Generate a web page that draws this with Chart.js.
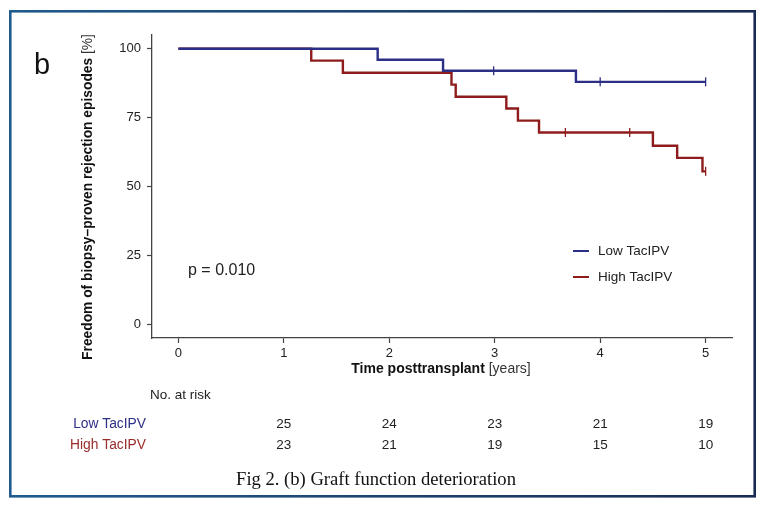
<!DOCTYPE html>
<html>
<head>
<meta charset="utf-8">
<script src="https://cdn.jsdelivr.net/npm/chart.js@4.4.1/dist/chart.umd.min.js"></script>
<style>
  html, body { margin: 0; padding: 0; background: #fff; }
  #wrap { width: 766px; height: 509px; }
</style>
</head>
<body>
<div id="wrap"><canvas id="km" width="766" height="509"></canvas></div>
<script>
"use strict";

// Kaplan-Meier steps (time in years, survival in %)
const lowTimes = [0, 1.89, 2.51, 3.77, 5.0];
const lowSurv = [100, 96, 92, 88, 88];
const lowCensorTimes = [2.99, 4.0, 5.0];
const lowCensorSurv = [92, 88, 88];

const highTimes = [0, 1.26, 1.56, 2.59, 2.63, 3.11, 3.22, 3.42, 4.5, 4.73, 4.97, 5.0];
const highSurv = [100, 95.7, 91.3, 87.0, 82.6, 78.3, 73.9, 69.6, 64.8, 60.4, 55.5, 55.5];
const highCensorTimes = [3.67, 4.28, 5.0];
const highCensorSurv = [69.6, 69.6, 55.5];

// number at risk table
const riskTimes = [1, 2, 3, 4, 5];
const lowRisk = [25, 24, 23, 21, 19];
const highRisk = [23, 21, 19, 15, 10];

const xTicks = [0, 1, 2, 3, 4, 5];
const yTicks = [0, 25, 50, 75, 100];

const groupNames = ["Low TacIPV", "High TacIPV"];
const pValueText = "p = 0.010";

const BLUE = "#2c2f86";
const RED = "#8e1c1c";
const SANS = "'Liberation Sans', Arial, Helvetica, sans-serif";

const pts = (xs, ys) => xs.map((x, i) => ({ x, y: ys[i] }));

const extras = {
  id: "extras",
  beforeDraw(chart) {
    const c = chart.ctx;
    c.save();
    c.fillStyle = "#fff";
    c.fillRect(0, 0, chart.width, chart.height);
    c.restore();
  },
  afterDraw(chart) {
    const c = chart.ctx;
    const xs = chart.scales.x;
    c.save();

    // frame
    const g = c.createLinearGradient(9, 0, 756, 0);
    g.addColorStop(0, "#1f5b8e");
    g.addColorStop(1, "#1a2b53");
    c.strokeStyle = g;
    c.lineWidth = 2.6;
    c.strokeRect(10.3, 11.3, 744.4, 485);

    c.fillStyle = "#111";
    c.textBaseline = "alphabetic";
    c.textAlign = "left";
    c.font = "29px " + SANS;
    c.fillText("b", 34, 74);

    // mixed-weight axis titles
    function mixed(bold, normal, cx, cy, size, rot) {
      c.save();
      c.translate(cx, cy);
      if (rot) c.rotate(-Math.PI / 2);
      c.font = "bold " + size + "px " + SANS;
      const wb = c.measureText(bold).width;
      c.font = size + "px " + SANS;
      const wn = c.measureText(normal).width;
      const x0 = -(wb + wn) / 2;
      c.textBaseline = "middle";
      c.textAlign = "left";
      c.fillStyle = "#111";
      c.font = "bold " + size + "px " + SANS;
      c.fillText(bold, x0, 0);
      c.font = size + "px " + SANS;
      c.fillStyle = "#333";
      c.fillText(normal, x0 + wb, 0);
      c.restore();
    }
    mixed("Freedom of biopsy\u2013proven rejection episodes", " [%]", 88, 197, 13.8, true);
    mixed("Time posttransplant", " [years]", 441, 369, 14, false);

    c.textBaseline = "middle";
    c.fillStyle = "#222";
    c.font = "16px " + SANS;
    c.fillText(pValueText, 188, 271);

    // legend
    c.font = "13.5px " + SANS;
    [[BLUE, 251], [RED, 277]].forEach(([col, y], i) => {
      c.strokeStyle = col;
      c.lineWidth = 2;
      c.beginPath();
      c.moveTo(573, y);
      c.lineTo(589, y);
      c.stroke();
      c.fillStyle = "#222";
      c.fillText(groupNames[i], 598, y);
    });

    // risk table
    c.fillStyle = "#222";
    c.fillText("No. at risk", 150, 395);
    c.textAlign = "right";
    c.font = "13.8px " + SANS;
    c.fillStyle = BLUE;
    c.fillText(groupNames[0], 146, 424);
    c.fillStyle = "#9a2b2b";
    c.fillText(groupNames[1], 146, 445);
    c.textAlign = "center";
    c.fillStyle = "#222";
    c.font = "13.5px " + SANS;
    riskTimes.forEach((t, i) => {
      const px = xs.getPixelForValue(t);
      c.fillText(String(lowRisk[i]), px, 424);
      c.fillText(String(highRisk[i]), px, 445);
    });

    // caption
    c.font = "18.6px 'Liberation Serif', 'Times New Roman', serif";
    c.fillStyle = "#111";
    c.fillText("Fig 2. (b) Graft function deterioration", 376, 480);
    c.restore();
  },
};

const stepStyle = (col) => ({
  borderColor: col,
  borderWidth: 2.4,
  pointRadius: 0,
  stepped: "before",
  fill: false,
});
const censorStyle = (col) => ({
  type: "scatter",
  borderColor: col,
  backgroundColor: col,
  borderWidth: 1.3,
  pointStyle: "line",
  rotation: 90,
  pointRadius: 4.5,
  showLine: false,
});

const ctx = document.getElementById("km").getContext("2d");
new Chart(ctx, {
  type: "line",
  data: {
    datasets: [
      { label: groupNames[0], data: pts(lowTimes, lowSurv), ...stepStyle(BLUE) },
      { label: groupNames[1], data: pts(highTimes, highSurv), ...stepStyle(RED) },
      { label: "low censored", data: pts(lowCensorTimes, lowCensorSurv), ...censorStyle(BLUE) },
      { label: "high censored", data: pts(highCensorTimes, highCensorSurv), ...censorStyle(RED) },
    ],
  },
  options: {
    responsive: false,
    animation: false,
    layout: { padding: { left: 0, top: 35, right: 34, bottom: 151 } },
    plugins: { legend: { display: false }, tooltip: { enabled: false } },
    scales: {
      x: {
        type: "linear",
        min: -0.25,
        max: 5.25,
        afterBuildTicks: (s) => { s.ticks = xTicks.map((v) => ({ value: v })); },
        afterFit: (s) => { s.height = 20; },
        grid: { drawOnChartArea: false, tickLength: 5, tickColor: "#444", tickWidth: 1.2 },
        border: { color: "#444", width: 1.3 },
        ticks: { color: "#222", font: { family: SANS, size: 13 }, padding: 3, maxRotation: 0 },
      },
      y: {
        min: -5,
        max: 105,
        afterBuildTicks: (s) => { s.ticks = yTicks.map((v) => ({ value: v })); },
        afterFit: (s) => { s.width = 152; },
        grid: { drawOnChartArea: false, tickLength: 5, tickColor: "#444", tickWidth: 1.2 },
        border: { color: "#444", width: 1.3 },
        ticks: { color: "#222", font: { family: SANS, size: 13 }, padding: 6 },
      },
    },
  },
  plugins: [extras],
});
</script>
</body>
</html>
